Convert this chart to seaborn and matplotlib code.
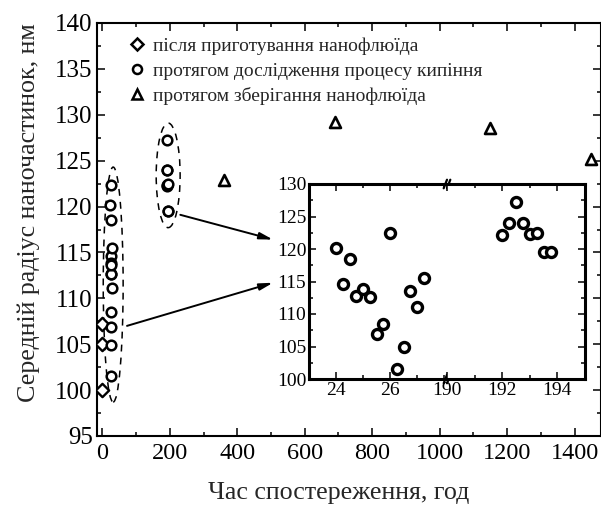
import matplotlib
matplotlib.use("Agg")
import matplotlib.pyplot as plt
import seaborn as sns
import numpy as np
import pandas as pd
from matplotlib.ticker import MultipleLocator, FixedLocator
from matplotlib.patches import Ellipse
from matplotlib.lines import Line2D

# ---------------- data ----------------
prep_time = [0, 0, 0]
prep_radius = [100.0, 105.0, 107.2]

boil_time = [24.0, 24.25, 24.5, 24.75, 25.0, 25.25, 25.5, 25.75, 26.0, 26.25,
             26.5, 26.75, 27.0, 27.25,
             192.0, 192.25, 192.5, 192.75, 193.0, 193.25, 193.5, 193.75]
boil_radius = [120.2, 114.6, 118.5, 112.7, 113.9, 112.6, 106.9, 108.5, 122.4, 101.5,
               104.9, 113.6, 111.1, 115.5,
               122.2, 124.0, 127.2, 124.0, 122.3, 122.5, 119.5, 119.5]

store_time = [360, 690, 1150, 1450]
store_radius = [122.9, 129.2, 128.6, 125.2]

labels = ["після приготування нанофлюїда",
          "протягом дослідження процесу кипіння",
          "протягом зберігання нанофлюїда"]
xlabel = "Час спостереження, год"
ylabel = "Середній радіус наночастинок, нм"

main_xticks = [0, 200, 400, 600, 800, 1000, 1200, 1400]
main_yticks = [95, 100, 105, 110, 115, 120, 125, 130, 135, 140]
inset_left_ticks = [24, 26]
inset_right_ticks = [190, 192, 194]
inset_yticks = [100, 105, 110, 115, 120, 125, 130]

# ---------------- style ----------------
sns.set_style("ticks")
plt.rcParams["font.family"] = ["Liberation Serif", "DejaVu Serif"]

W, H = 601, 508
fig = plt.figure(figsize=(W / 100, H / 100), dpi=100)

def fx(px):
    return px / W

def fy(py):
    return 1 - py / H

# main axes
ax = fig.add_axes([fx(97), fy(436), fx(600.5 - 97), (436 - 23) / H])
kw = dict(facecolor="white", edgecolor="black", legend=False, zorder=3)
sns.scatterplot(x=prep_time, y=prep_radius, marker="D", s=46, linewidth=1.7, ax=ax, **kw)
sns.scatterplot(x=boil_time, y=boil_radius, marker="o", s=48, linewidth=1.8, ax=ax, **kw)
sns.scatterplot(x=store_time, y=store_radius, marker="^", s=62, linewidth=1.9, ax=ax, **kw)

ax.set_xlim(-16, 1477)
ax.set_ylim(95, 140)
ax.xaxis.set_major_locator(FixedLocator(main_xticks))
ax.xaxis.set_minor_locator(MultipleLocator(100))
ax.yaxis.set_major_locator(FixedLocator(main_yticks))
ax.yaxis.set_minor_locator(MultipleLocator(2.5))
ax.tick_params(which="both", direction="in", top=True, right=True, width=1.1,
               color="black", labelcolor="black")
ax.tick_params(axis="x", labelsize=17.5, pad=5)
ax.tick_params(axis="y", labelsize=18, pad=3)
ax.tick_params(which="major", length=6)
ax.tick_params(which="minor", length=3)
for sp in ax.spines.values():
    sp.set_linewidth(1.5)
    sp.set_color("black")
ax.set_xlabel(xlabel, fontsize=18.7)
ax.set_ylabel(ylabel, fontsize=18.7)
ax.xaxis.set_label_coords((338.5 - 97) / 503, (436 - 482) / 413)
ax.yaxis.set_label_coords((40 - 97) / 503, (436 - 212.5) / 413)

# dashed ellipses
ax.add_patch(Ellipse((32, 111.5), 59, 25.6, fill=False, ls=(0, (4.5, 4)), lw=1.1, ec="black"))
ax.add_patch(Ellipse((195, 123.4), 71, 11.4, fill=False, ls=(0, (4.5, 4)), lw=1.1, ec="black"))

# arrows
arrow_kw = dict(arrowstyle="-|>,head_length=0.8,head_width=0.2", lw=1.4, color="black",
                shrinkA=0, shrinkB=0)
ax.annotate("", xy=(506, 111.7), xytext=(73, 107.0), arrowprops=arrow_kw)
ax.annotate("", xy=(506, 116.4), xytext=(231, 119.1), arrowprops=arrow_kw)

# legend
handles = [
    Line2D([], [], marker="D", ls="none", mfc="white", mec="black", ms=6.3, mew=1.8),
    Line2D([], [], marker="o", ls="none", mfc="white", mec="black", ms=6.5, mew=1.8),
    Line2D([], [], marker="^", ls="none", mfc="white", mec="black", ms=7.5, mew=1.8),
]
leg = ax.legend(handles, labels, loc="upper left", bbox_to_anchor=(fx(127.5), fy(37)),
                bbox_transform=fig.transFigure, frameon=False, fontsize=14,
                handlelength=1.0, handletextpad=0.3, labelspacing=0.38, borderpad=0,
                borderaxespad=0)

# ---------------- inset (broken x axis) ----------------
iy0, iy1 = 379, 184
axL = fig.add_axes([fx(309), fy(iy0), fx(447 - 309), (iy0 - iy1) / H])
axR = fig.add_axes([fx(447), fy(iy0), fx(585 - 447), (iy0 - iy1) / H])
ikw = dict(marker="o", s=52, linewidth=2.4, facecolor="white", edgecolor="black",
           legend=False, zorder=3)
sns.scatterplot(x=boil_time, y=boil_radius, ax=axL, **ikw)
sns.scatterplot(x=boil_time, y=boil_radius, ax=axR, **ikw)
axL.set_xlim(23, 28.1)
axR.set_xlim(190, 195)
for a in (axL, axR):
    a.set_ylim(100, 130)
    a.set_xlabel("")
    a.set_ylabel("")
    a.yaxis.set_major_locator(FixedLocator(inset_yticks))
    a.yaxis.set_minor_locator(MultipleLocator(2.5))
    a.xaxis.set_minor_locator(MultipleLocator(1))
    a.tick_params(which="both", direction="in", top=True, width=1.1, labelsize=14,
                  color="black", labelcolor="black")
    a.tick_params(which="major", length=5)
    a.tick_params(which="minor", length=3)
    for sp in a.spines.values():
        sp.set_linewidth(2.2)
        sp.set_color("black")
axL.xaxis.set_major_locator(FixedLocator(inset_left_ticks))
axR.xaxis.set_major_locator(FixedLocator(inset_right_ticks))
axL.spines["right"].set_visible(False)
axR.spines["left"].set_visible(False)
axL.tick_params(axis="y", which="both", left=True, right=False, pad=2)
axR.tick_params(axis="y", which="both", left=False, right=True, labelleft=False)
axL.tick_params(axis="x", pad=2)
axR.tick_params(axis="x", pad=2)

# break marks
for yb in (0.0, 1.0):
    for dx in (-0.012, 0.012):
        axL.plot([1.0 + dx - 0.012, 1.0 + dx + 0.012], [yb - 0.022, yb + 0.022],
                 transform=axL.transAxes, color="black", lw=1.6, clip_on=False, zorder=5)

fig.savefig("out.png", dpi=100)
